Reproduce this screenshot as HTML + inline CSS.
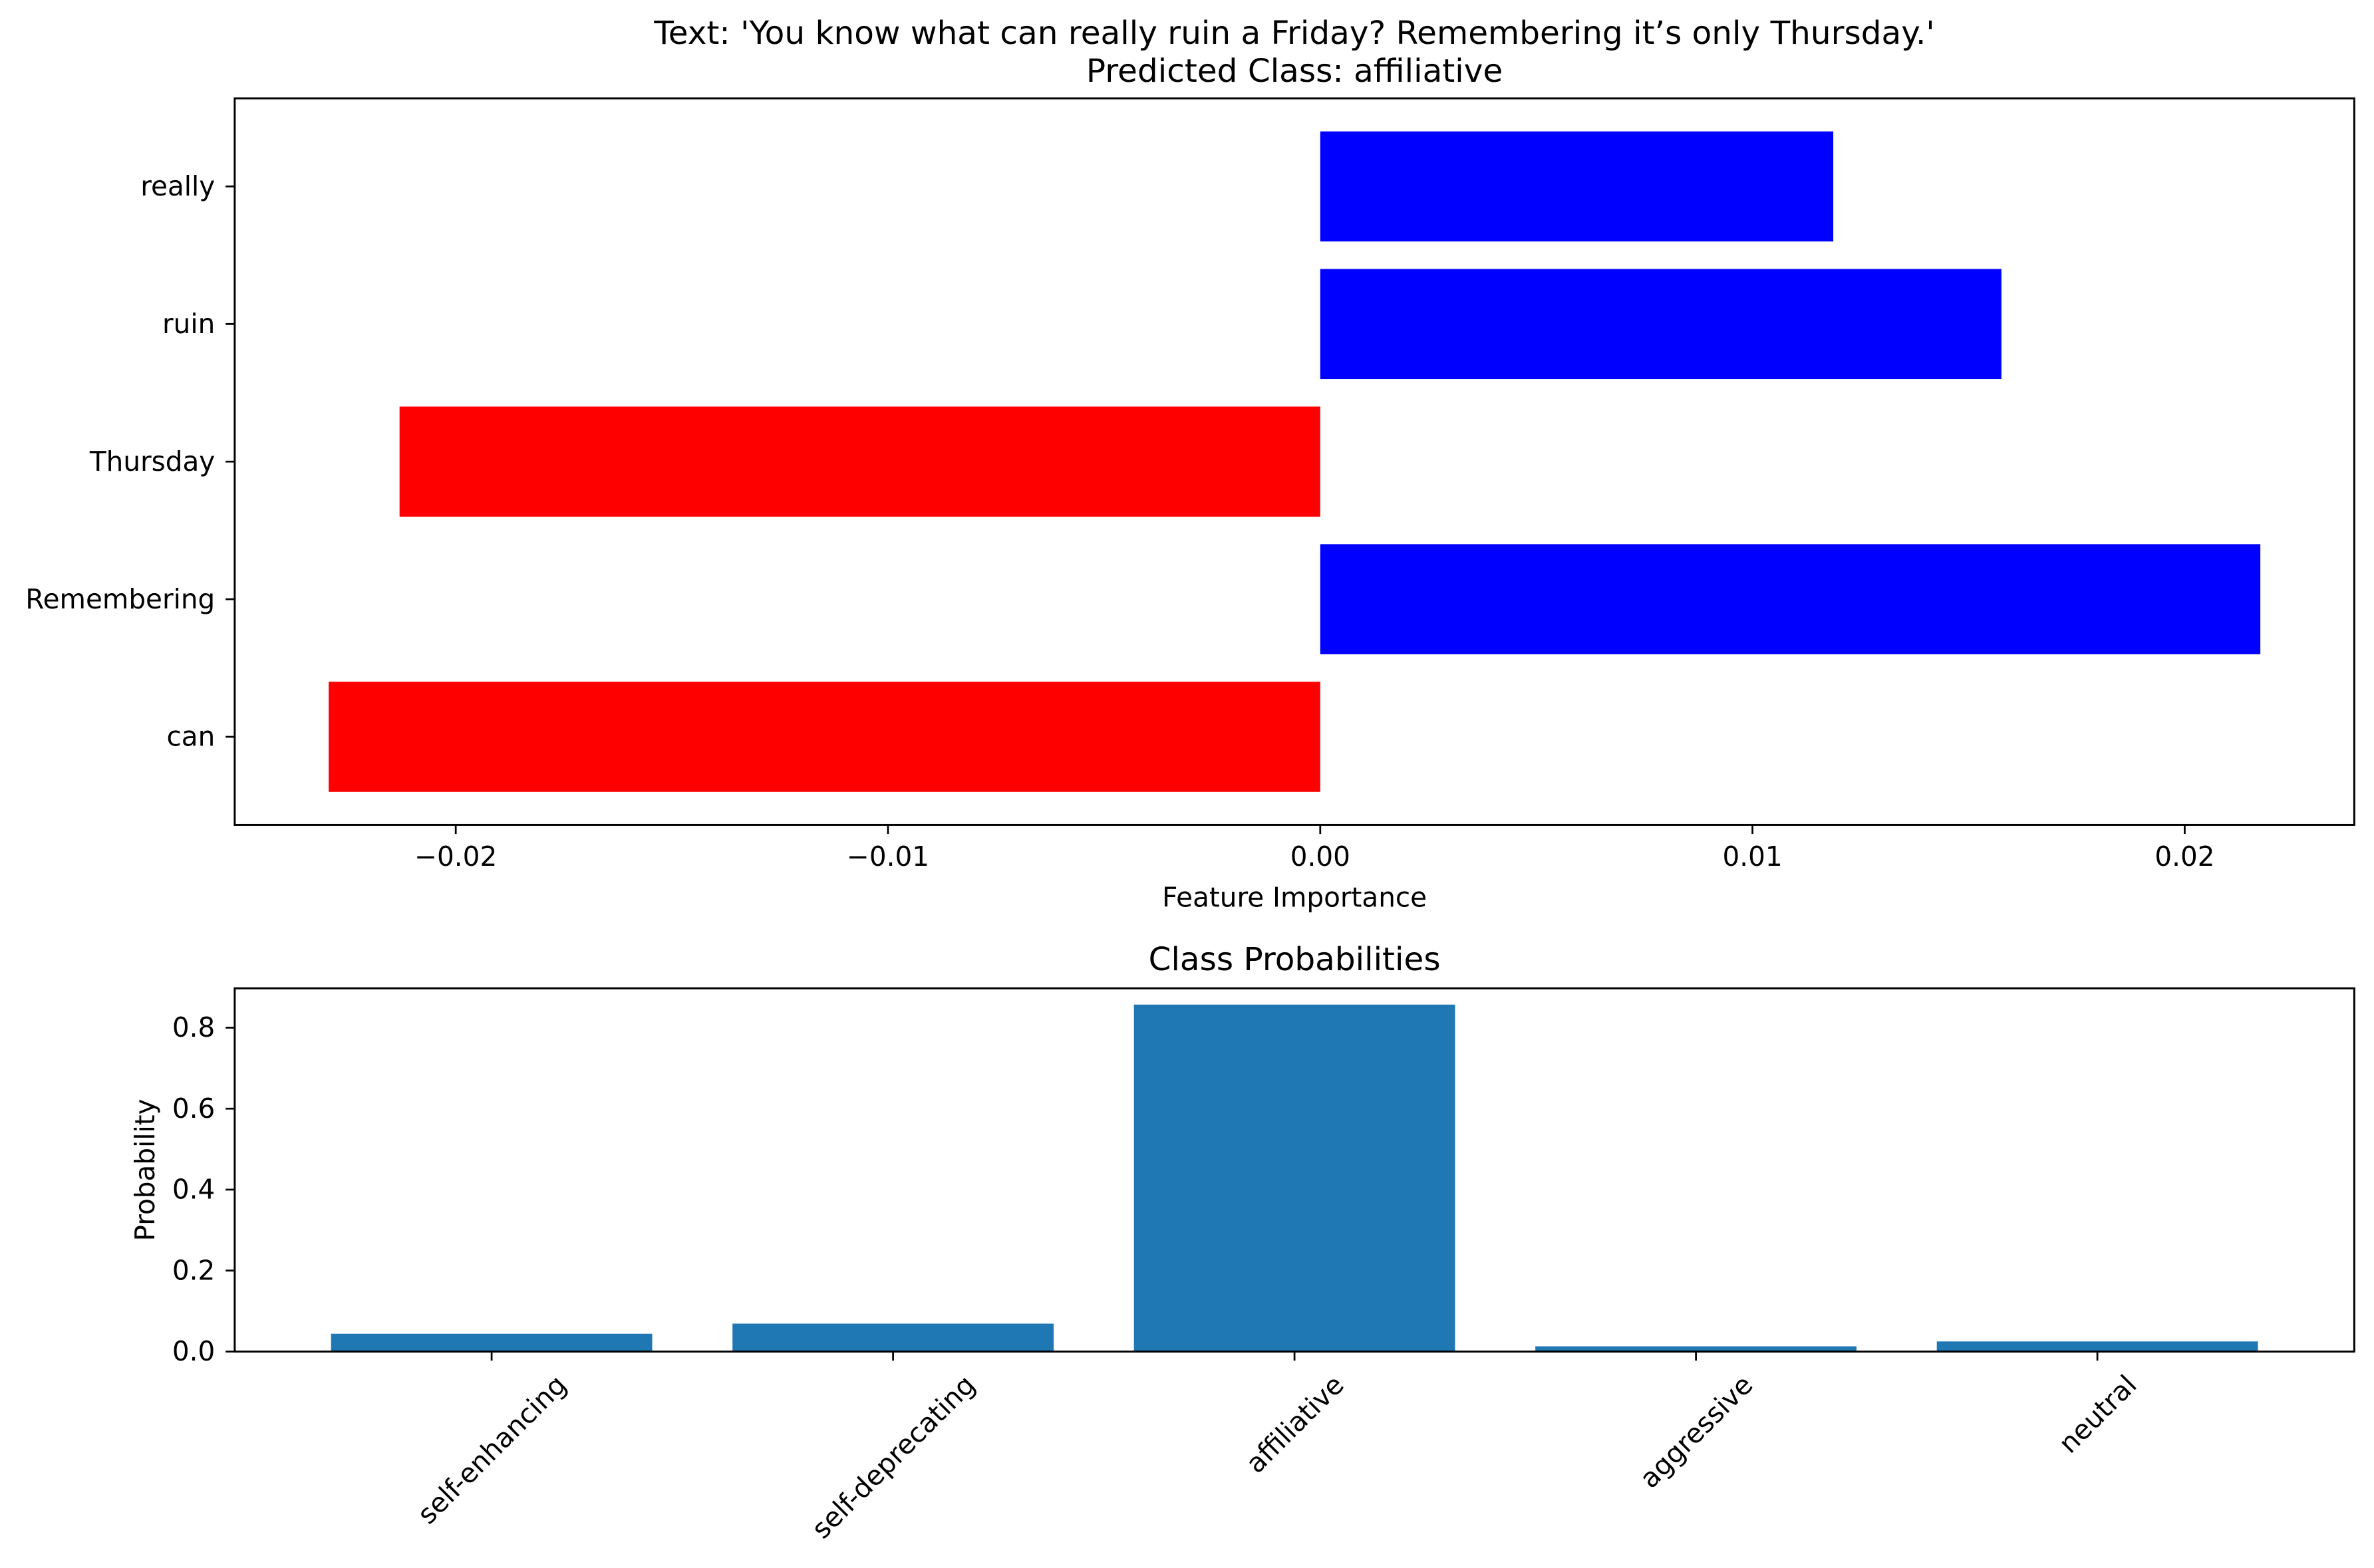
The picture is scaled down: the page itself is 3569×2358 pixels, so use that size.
<!DOCTYPE html>
<html><head><meta charset="utf-8"><style>
html,body{margin:0;padding:0;background:#fff}
svg{display:block}
text{font-family:"DejaVu Sans","Liberation Sans",sans-serif;fill:#000}
</style></head><body>
<svg id="chart" width="3569" height="2358" viewBox="0 0 1568 1036" xmlns="http://www.w3.org/2000/svg">
<rect width="1568" height="1036" fill="#fff"/>
<text x="855" y="29" font-size="21.3" text-anchor="middle">Text: 'You know what can really ruin a Friday? Remembering it’s only Thursday.'</text>
<text x="855" y="54" font-size="21.3" text-anchor="middle">Predicted Class: affiliative</text>
<g id="topAxes"></g>
<text x="855" y="599" font-size="17.8" text-anchor="middle">Feature Importance</text>
<text x="855" y="641" font-size="21.3" text-anchor="middle">Class Probabilities</text>
<g id="bottomAxes"></g>
<text transform="translate(102,773) rotate(-90)" font-size="17.8" text-anchor="middle">Probability</text>
</svg>
<script>
const words = ["can","Remembering","Thursday","ruin","really"];
const importance = [-0.02294, 0.02175, -0.0213, 0.01576, 0.01187];
const xTicks = [-0.02,-0.01,0,0.01,0.02];
const xTickLabels = ["−0.02","−0.01","0.00","0.01","0.02"];
const classes = ["self-enhancing","self-deprecating","affiliative","aggressive","neutral"];
const probs = [0.044, 0.069, 0.857, 0.013, 0.025];
const yTicks = [0,0.2,0.4,0.6,0.8];
const yTickLabels = ["0.0","0.2","0.4","0.6","0.8"];

const NS="http://www.w3.org/2000/svg";
const FS=17.8;
function mk(tag,attrs,parent,txt){const e=document.createElementNS(NS,tag);for(const k in attrs)e.setAttribute(k,attrs[k]);if(txt!==undefined)e.textContent=txt;parent.appendChild(e);return e;}

const T={l:155,r:1555,t:65,b:545};
const tx=v=>872+v*28550;
const ty=i=>T.b-(i+0.64)*(T.b-T.t)/5.28;
const topG=document.getElementById('topAxes');
importance.forEach((v,i)=>{
  const bh=0.8*(T.b-T.t)/5.28;
  const r=mk('rect',{x:Math.min(tx(0),tx(v)),y:ty(i)-bh/2,width:Math.abs(tx(v)-tx(0)),height:bh,fill:v>=0?'#0000ff':'#ff0000'},topG);
  
  
  mk('line',{x1:T.l,x2:T.l-6,y1:ty(i),y2:ty(i),stroke:'#000','stroke-width':1.2},topG);
  const t=mk('text',{x:T.l-13,y:ty(i)+6,'font-size':FS,'text-anchor':'end'},topG,words[i]);
  
  
});
xTicks.forEach((v,i)=>{
  mk('line',{x1:tx(v),x2:tx(v),y1:T.b,y2:T.b+6,stroke:'#000','stroke-width':1.2},topG);
  const t=mk('text',{x:tx(v),y:T.b+27,'font-size':FS,'text-anchor':'middle'},topG,xTickLabels[i]);
  
  
});
const tf=mk('rect',{x:T.l,y:T.t,width:T.r-T.l,height:T.b-T.t,fill:'none',stroke:'#000','stroke-width':1.3},topG);



const B={l:155,r:1555,t:653,b:893};
const bx=i=>B.l+(i+0.64)*(B.r-B.l)/5.28;
const by=v=>B.b-v*267.5;
const botG=document.getElementById('bottomAxes');
probs.forEach((p,i)=>{
  const bw=0.8*(B.r-B.l)/5.28;
  const r=mk('rect',{x:bx(i)-bw/2,y:by(p),width:bw,height:B.b-by(p),fill:'#1f77b4'},botG);
  
  
  mk('line',{x1:bx(i),x2:bx(i),y1:B.b,y2:B.b+6,stroke:'#000','stroke-width':1.2},botG);
  const t=mk('text',{x:0,y:0,'font-size':FS,'text-anchor':'middle'},botG,classes[i]);
  
  
  const L=t.getComputedTextLength();
  const half=(L+FS*1.05)*0.7071/2;
  const cy=B.b+12+half;
  t.setAttribute('transform',`translate(${bx(i)},${cy}) rotate(-45) translate(0,${FS*0.36})`);
});
yTicks.forEach((v,i)=>{
  mk('line',{x1:B.l,x2:B.l-6,y1:by(v),y2:by(v),stroke:'#000','stroke-width':1.2},botG);
  const t=mk('text',{x:B.l-13,y:by(v)+6,'font-size':FS,'text-anchor':'end'},botG,yTickLabels[i]);
  
  
});
const bf=mk('rect',{x:B.l,y:B.t,width:B.r-B.l,height:B.b-B.t,fill:'none',stroke:'#000','stroke-width':1.3},botG);


</script>
</body></html>
